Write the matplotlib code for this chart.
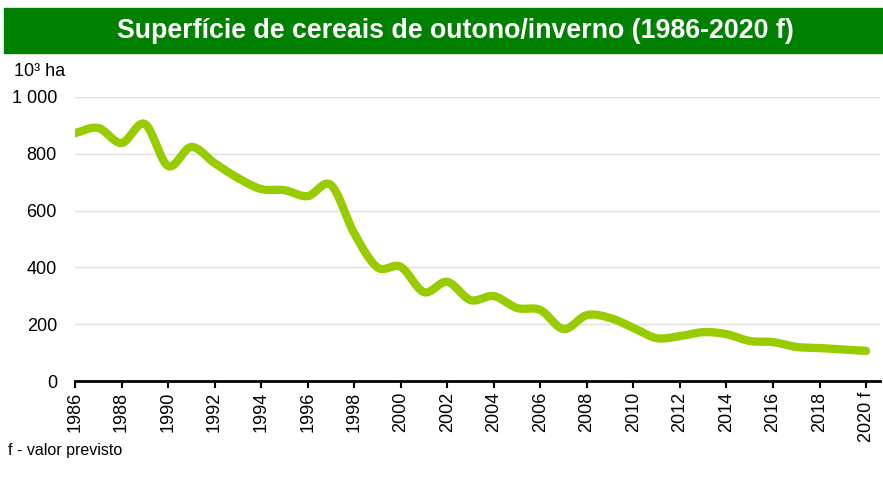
import numpy as np
import matplotlib.pyplot as plt
from matplotlib.patches import Rectangle

# dados (10^3 ha)
anos = list(range(1986, 2021))
area = [873, 891, 838, 905, 757, 824, 767, 715, 676, 672, 651, 690, 520, 400,
        402, 313, 349, 285, 299, 257, 250, 183, 232, 222, 187, 151, 158, 172,
        165, 141, 137, 120, 116, 111, 106]
rotulos = [str(a) for a in range(1986, 2020, 2)] + ['2020 f']
pos_rotulos = list(range(1986, 2021, 2))

def suaviza(x, y, n=20):
    # catmull-rom, parecido com a linha suavizada do excel
    x = np.asarray(x, float)
    y = np.asarray(y, float)
    px = np.concatenate([[2 * x[0] - x[1]], x, [2 * x[-1] - x[-2]]])
    py = np.concatenate([[2 * y[0] - y[1]], y, [2 * y[-1] - y[-2]]])
    xs, ys = [], []
    t = np.linspace(0, 1, n, endpoint=False)
    for i in range(1, len(px) - 2):
        for p, out in ((px, xs), (py, ys)):
            p0, p1, p2, p3 = p[i - 1], p[i], p[i + 1], p[i + 2]
            out.extend(0.5 * (2 * p1 + (-p0 + p2) * t
                              + (2 * p0 - 5 * p1 + 4 * p2 - p3) * t ** 2
                              + (-p0 + 3 * p1 - 3 * p2 + p3) * t ** 3))
    xs.append(x[-1])
    ys.append(y[-1])
    return np.array(xs), np.array(ys)

plt.rcParams['font.family'] = ['Liberation Sans', 'DejaVu Sans']

fig = plt.figure(figsize=(8.83, 4.84), dpi=100)

# faixa do titulo
fig.patches.append(Rectangle((4 / 883, 1 - 53 / 484), 879 / 883, 45 / 484,
                             transform=fig.transFigure, color='#008000', zorder=0))
fig.text(455 / 883, 1 - 31 / 484, 'Superfície de cereais de outono/inverno (1986-2020 f)',
         color='white', fontsize=19.3, fontweight='bold', ha='center', va='center')

ax = fig.add_axes([75 / 883, 1 - 381 / 484, 805 / 883, 284 / 484])
xs, ys = suaviza(anos, area)
ax.plot(xs, ys, color='#99cc00', lw=6, solid_capstyle='round', zorder=3)

ax.set_xlim(1986, 2020.6)
ax.set_ylim(0, 1000)
ax.set_yticks(range(0, 1001, 200))
ax.set_yticklabels(['0', '200', '400', '600', '800', '1 000'])
ax.set_xticks(pos_rotulos)
ax.set_xticklabels(rotulos, rotation=90)
ax.tick_params(axis='y', length=0, labelsize=13, pad=13)
ax.tick_params(axis='x', length=5, width=1.5, labelsize=13, direction='out', pad=3)
ax.grid(axis='y', color='#e0e0e0', lw=1)
ax.set_axisbelow(True)
for s in ['left', 'right', 'top']:
    ax.spines[s].set_visible(False)
ax.spines['bottom'].set_linewidth(2)

fig.text(14 / 883, 1 - 72 / 484, '10³ ha', fontsize=13, va='center')
fig.text(8 / 883, 1 - 450 / 484, 'f - valor previsto', fontsize=11.5, va='center')

fig.savefig('out.png', dpi=100)
